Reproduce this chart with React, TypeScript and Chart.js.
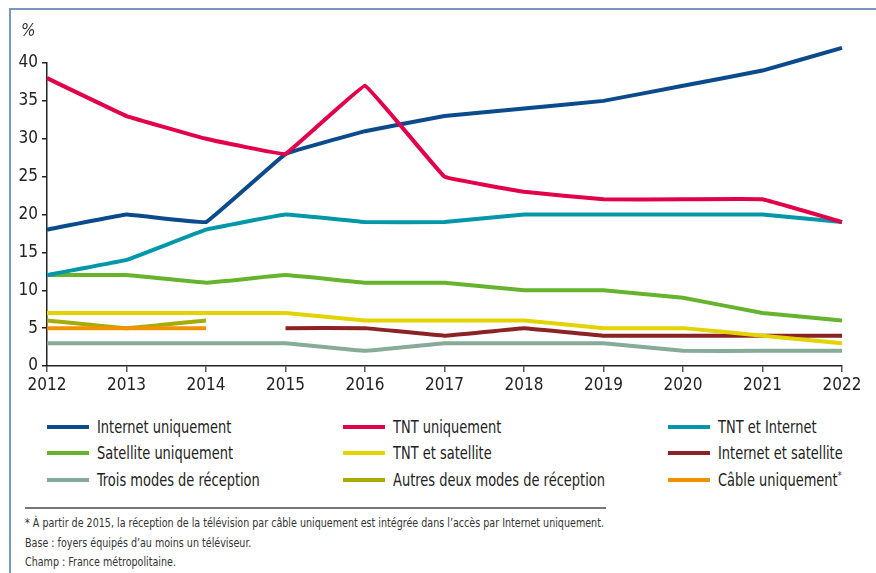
import React, { useEffect, useRef } from "react";
import { Chart, registerables } from "chart.js";

Chart.register(...registerables);

const years = ["2012", "2013", "2014", "2015", "2016", "2017", "2018", "2019", "2020", "2021", "2022"];
const internetOnly = [18, 20, 19, 28, 31, 33, 34, 35, 37, 39, 42];
const tntOnly = [38, 33, 30, 28, 37, 25, 23, 22, 22, 22, 19];
const tntInternet = [12, 14, 18, 20, 19, 19, 20, 20, 20, 20, 19];
const satelliteOnly = [12, 12, 11, 12, 11, 11, 10, 10, 9, 7, 6];
const tntSatellite = [7, 7, 7, 7, 6, 6, 6, 5, 5, 4, 3];
const internetSatellite = [null, null, null, 5, 5, 4, 5, 4, 4, 4, 4];
const troisModes = [3, 3, 3, 3, 2, 3, 3, 3, 2, 2, 2];
const autresDeux = [6, 5, 6, null, null, null, null, null, null, null, null];
const cableOnly = [5, 5, 5, null, null, null, null, null, null, null, null];
const yTicks = [0, 5, 10, 15, 20, 25, 30, 35, 40];

const FONT = "'Liberation Sans Narrow', 'DejaVu Sans Condensed', 'Roboto Condensed', sans-serif";

const series = [
  { label: "Internet uniquement", data: internetOnly, color: "#0b4a8b" },
  { label: "TNT uniquement", data: tntOnly, color: "#e2004a" },
  { label: "TNT et Internet", data: tntInternet, color: "#0097a9" },
  { label: "Satellite uniquement", data: satelliteOnly, color: "#66b32e" },
  { label: "TNT et satellite", data: tntSatellite, color: "#e3d300" },
  { label: "Internet et satellite", data: internetSatellite, color: "#8b2224" },
  { label: "Trois modes de réception", data: troisModes, color: "#86ab99" },
  { label: "Autres deux modes de réception", data: autresDeux, color: "#a6ad00" },
  { label: "Câble uniquement", data: cableOnly, color: "#f39200" },
];

// draw order (top first)
const drawOrder = [1, 0, 2, 3, 4, 5, 8, 7, 6];

export default function App() {
  const ref = useRef<HTMLCanvasElement>(null);
  useEffect(() => {
    if (!ref.current) return;
    const chart = new Chart(ref.current, {
      type: "line",
      data: {
        labels: years,
        datasets: series.map((s, i) => ({
          label: s.label,
          data: s.data as any,
          borderColor: s.color,
          backgroundColor: s.color,
          borderWidth: 4,
          pointRadius: 0,
          tension: 0.05,
          clip: false as any,
          spanGaps: false,
          order: drawOrder.indexOf(i),
        })),
      },
      options: {
        animation: false,
        responsive: false,
        maintainAspectRatio: false,
        layout: { padding: { left: 0, right: 34, top: 63, bottom: 0 } },
        plugins: { legend: { display: false }, tooltip: { enabled: false } },
        scales: {
          x: {
            type: "category",
            offset: false,
            grid: { display: true, drawOnChartArea: false, drawTicks: true, tickLength: 6, color: "#555", lineWidth: 1.5 },
            border: { display: true, color: "#222", width: 1.5 },
            ticks: { color: "#222", font: { family: FONT, size: 17 }, padding: 3, maxRotation: 0, autoSkip: false },
            afterFit: (s: any) => { s.height = 34; },
          },
          y: {
            min: 0,
            max: 40,
            afterBuildTicks: (s: any) => { s.ticks = yTicks.map((v) => ({ value: v })); },
            grid: { display: true, drawOnChartArea: false, drawTicks: true, tickLength: 5, color: "#222", lineWidth: 1.5 },
            border: { display: true, color: "#222", width: 1.5 },
            ticks: { color: "#222", font: { family: FONT, size: 17 }, padding: 4 },
            afterFit: (s: any) => { s.width = 47; },
          },
        },
      },
    });
    return () => chart.destroy();
  }, []);

  const legendCols = [
    [0, 3, 6],
    [1, 4, 7],
    [2, 5, 8],
  ];
  const colX = [47, 343, 668];
  const rowY = [427, 453, 480];

  return (
    <div style={{ position: "absolute", left: 0, top: 0, width: 876, height: 573, background: "#fff", overflow: "hidden", fontFamily: FONT }}>
      <div style={{ position: "absolute", left: 9, top: 9, width: 2, height: 564, background: "#7b97bd" }} />
      <div style={{ position: "absolute", left: 9, top: 8, width: 867, height: 2, background: "#7b97bd" }} />
      <canvas ref={ref} width={876} height={400} style={{ position: "absolute", left: 0, top: 0, width: 876, height: 400 }} />
      <div style={{ position: "absolute", left: 21, top: 20, fontSize: 17, fontStyle: "italic", color: "#333" }}>%</div>
      {legendCols.map((col, ci) =>
        col.map((si, ri) => (
          <div key={si} style={{ position: "absolute", left: colX[ci], top: rowY[ri] - 11, height: 22, display: "flex", alignItems: "center", whiteSpace: "nowrap" }}>
            <div style={{ width: 42, height: 4, background: series[si].color, marginRight: 8 }} />
            <span style={{ fontSize: 17, color: "#222", display: "inline-block", transform: "scaleX(0.85)", transformOrigin: "left center" }}>
              {series[si].label}
              {si === 8 ? <sup style={{ fontSize: 10 }}>*</sup> : null}
            </span>
          </div>
        ))
      )}
      <div style={{ position: "absolute", left: 25, top: 507, width: 581, height: 2, background: "#777" }} />
      <div style={{ position: "absolute", left: 25, top: 513, fontSize: 12.5, color: "#333", lineHeight: "19.5px", whiteSpace: "nowrap", transform: "scaleX(0.85)", transformOrigin: "left top" }}>
        <div>* À partir de 2015, la réception de la télévision par câble uniquement est intégrée dans l’accès par Internet uniquement.</div>
        <div>Base : foyers équipés d’au moins un téléviseur.</div>
        <div>Champ : France métropolitaine.</div>
      </div>
    </div>
  );
}
